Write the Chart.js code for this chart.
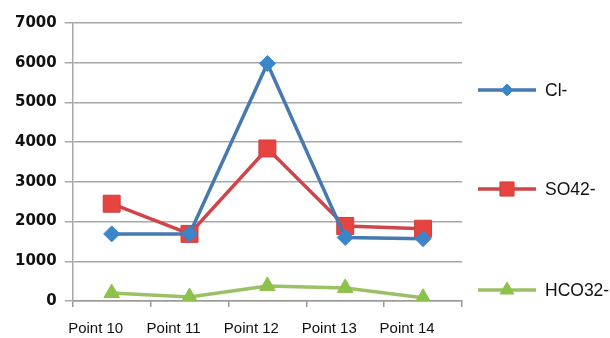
<!DOCTYPE html>
<html>
<head>
<meta charset="utf-8">
<script src="https://cdn.jsdelivr.net/npm/chart.js@4/dist/chart.umd.min.js"></script>
<style>
  html, body { margin: 0; padding: 0; background: #fff; }
  #wrap { width: 610px; height: 338px; position: relative; }
</style>
</head>
<body>
<div id="wrap"><canvas id="c" width="610" height="338"></canvas></div>
<script>
// Sampling points along the x axis
const categories = ['Point 10', 'Point 11', 'Point 12', 'Point 13', 'Point 14'];

// Ion concentrations per sampling point
const chloride    = [1690, 1690, 5980, 1600, 1570];
const sulfate     = [2450, 1690, 3840, 1890, 1820];
const bicarbonate = [200, 100, 380, 330, 80];

const seriesNames = ['Cl-', 'SO42-', 'HCO32-'];

// Y axis range and step
const yMin = 0, yMax = 7000, yStep = 1000;

// Draws a vertical legend on the right, one entry per series, spread out
const sideLegend = {
  id: 'sideLegend',
  afterDraw(chart) {
    const ctx = chart.ctx;
    const rows = [90, 189, 290];
    const x0 = 478, x1 = 536, tx = 545;
    chart.data.datasets.forEach((ds, i) => {
      const y = rows[i];
      ctx.save();
      ctx.strokeStyle = ds.borderColor;
      ctx.lineWidth = 3.5;
      ctx.beginPath();
      ctx.moveTo(x0, y);
      ctx.lineTo(x1, y);
      ctx.stroke();
      ctx.restore();
      ctx.save();
      ctx.fillStyle = ds.pointBackgroundColor;
      ctx.strokeStyle = ds.pointBorderColor;
      ctx.lineWidth = 1;
      Chart.helpers.drawPoint(ctx, {
        pointStyle: ds.pointStyle,
        radius: ds.legendRadius,
        borderWidth: 1
      }, (x0 + x1) / 2, y);
      ctx.restore();
      ctx.save();
      ctx.fillStyle = '#111';
      ctx.font = '17.5px "Liberation Sans", Arial, sans-serif';
      ctx.textBaseline = 'middle';
      ctx.fillText(ds.label, tx, y + 1);
      ctx.restore();
    });
  }
};

new Chart(document.getElementById('c'), {
  type: 'line',
  data: {
    labels: categories,
    datasets: [
      {
        label: seriesNames[0],
        data: chloride,
        borderColor: '#4579b0',
        borderWidth: 3.5,
        pointStyle: 'rectRot',
        pointRadius: 8,
        legendRadius: 6,
        pointBackgroundColor: '#3a86c9',
        pointBorderColor: '#3a86c9',
        pointBorderWidth: 1,
        tension: 0
      },
      {
        label: seriesNames[1],
        data: sulfate,
        borderColor: '#d0454b',
        borderWidth: 3.5,
        pointStyle: 'rect',
        pointRadius: 12,
        legendRadius: 10,
        pointBackgroundColor: '#e8443f',
        pointBorderColor: '#c9403f',
        pointBorderWidth: 1,
        tension: 0
      },
      {
        label: seriesNames[2],
        data: bicarbonate,
        borderColor: '#9cc065',
        borderWidth: 3.5,
        pointStyle: 'triangle',
        pointRadius: 9,
        legendRadius: 8,
        pointBackgroundColor: '#8cc24a',
        pointBorderColor: '#8cc24a',
        pointBorderWidth: 1,
        tension: 0
      }
    ]
  },
  options: {
    responsive: false,
    animation: false,
    layout: { padding: { left: 7, right: 148, top: 23, bottom: -13 } },
    plugins: {
      legend: { display: false },
      tooltip: { enabled: false }
    },
    scales: {
      x: {
        offset: true,
        grid: {
          display: true,
          drawOnChartArea: false,
          drawTicks: true,
          tickLength: 6,
          offset: true,
          color: '#9a9a9a',
          lineWidth: 1.5
        },
        border: { display: true, color: '#9a9a9a', width: 1.5 },
        ticks: {
          color: '#111',
          font: { family: '"Liberation Sans", Arial, sans-serif', size: 15 },
          padding: 13,
          labelOffset: -16,
          maxRotation: 0
        }
      },
      y: {
        min: yMin,
        max: yMax,
        grid: {
          color: '#a8a8a8',
          lineWidth: 1.5,
          tickLength: 8
        },
        border: { display: true, color: '#a8a8a8', width: 1.5 },
        ticks: {
          stepSize: yStep,
          color: '#111',
          font: { family: '"DejaVu Sans", Verdana, sans-serif', size: 15, weight: 'bold' },
          padding: 8,
          callback: (v) => String(v)
        }
      }
    }
  },
  plugins: [sideLegend]
});
</script>
</body>
</html>
